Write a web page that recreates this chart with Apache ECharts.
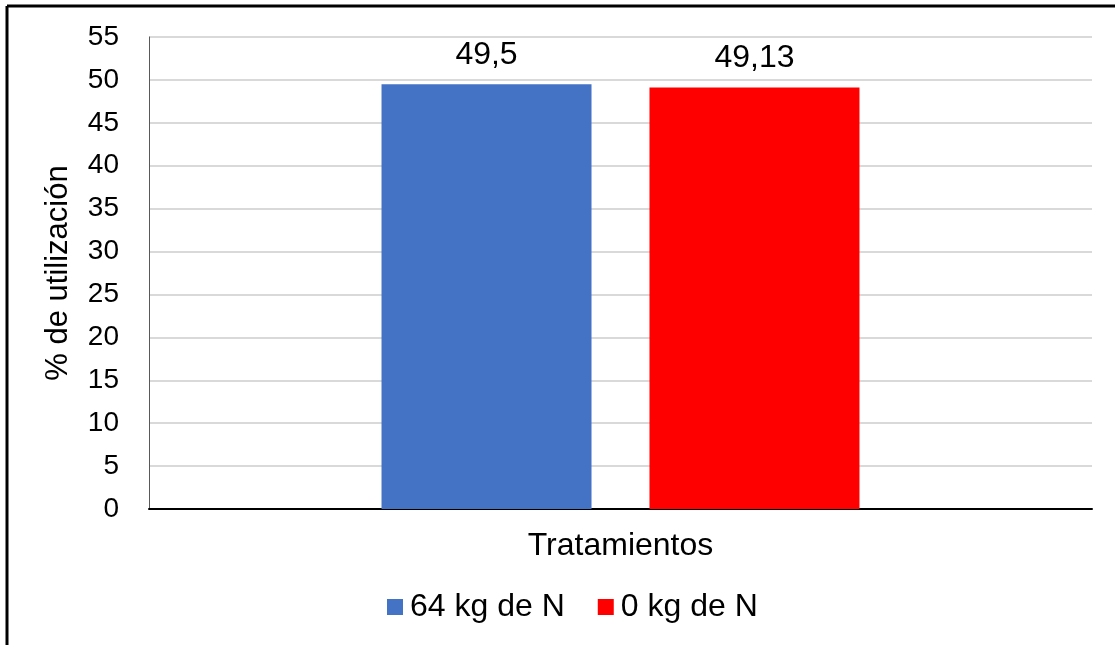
<!DOCTYPE html>
<html><head><meta charset="utf-8">
<script src="https://cdn.jsdelivr.net/npm/echarts@6/dist/echarts.min.js"></script>
<style>html,body{margin:0;padding:0;background:#fff}#c{width:1115px;height:645px}</style>
</head><body><div id="c"></div>
<script>
var categories = ['Tratamientos'];
var seriesNames = ['64 kg de N', '0 kg de N'];
var values64 = [49.5];
var values0 = [49.13];
var labels64 = ['49,5'];
var labels0 = ['49,13'];
var yTicks = [0, 5, 10, 15, 20, 25, 30, 35, 40, 45, 50, 55];

var chart = echarts.init(document.getElementById('c'));
var font = 'Liberation Sans, Arial, sans-serif';
function mkSeries(name, vals, labs, color) {
  return {
    name: name, type: 'bar', data: vals, barWidth: 210, barGap: '27.6%',
    itemStyle: {color: color},
    label: {show: true, position: 'top', distance: 13, color: '#000', fontSize: 32, fontFamily: font,
      formatter: function (p) { return labs[p.dataIndex]; }}
  };
}
chart.setOption({
  animation: false,
  textStyle: {fontFamily: font},
  graphic: [
    {type: 'line', shape: {x1: 7, y1: 6, x2: 1115, y2: 6}, style: {stroke: '#000', lineWidth: 3}},
    {type: 'line', shape: {x1: 7, y1: 6, x2: 7, y2: 645}, style: {stroke: '#000', lineWidth: 3}}
  ],
  grid: {left: 149, right: 23, top: 37, bottom: 136},
  legend: {
    data: seriesNames, bottom: 17, left: 382, itemWidth: 16, itemHeight: 16, itemGap: 33,
    icon: 'rect', textStyle: {fontSize: 32, color: '#000', fontFamily: font, padding: [0, 0, 0, 2]}
  },
  xAxis: {
    type: 'category', data: categories,
    name: categories[0], nameLocation: 'middle', nameGap: 21,
    nameTextStyle: {fontSize: 32, color: '#000', fontFamily: font},
    axisLabel: {show: false}, axisTick: {show: false},
    axisLine: {lineStyle: {color: '#000', width: 2}}
  },
  yAxis: {
    type: 'value', min: yTicks[0], max: yTicks[yTicks.length - 1], interval: 5,
    name: '% de utilización', nameLocation: 'middle', nameGap: 75,
    nameTextStyle: {fontSize: 31, color: '#000', fontFamily: font},
    axisLabel: {fontSize: 28, color: '#000', margin: 30, fontFamily: font},
    axisLine: {show: true, lineStyle: {color: '#595959', width: 1}},
    axisTick: {show: false},
    splitLine: {lineStyle: {color: '#d9d9d9', width: 2}}
  },
  series: [mkSeries(seriesNames[0], values64, labels64, '#4472c4'), mkSeries(seriesNames[1], values0, labels0, '#ff0000')]
});
</script></body></html>
